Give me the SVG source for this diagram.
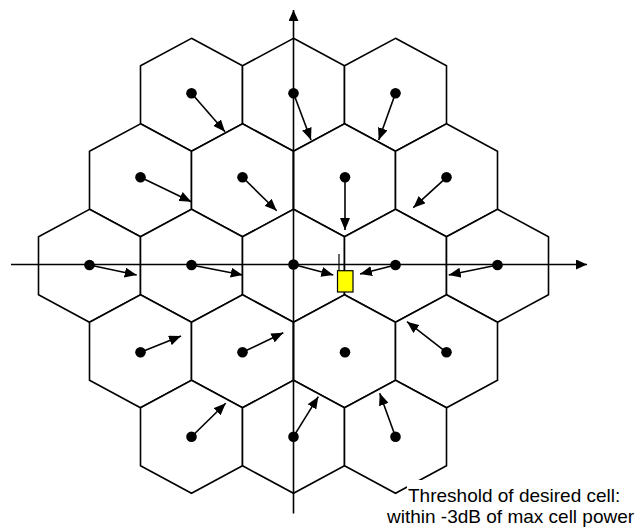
<svg xmlns="http://www.w3.org/2000/svg" xmlns:xlink="http://www.w3.org/1999/xlink" width="637" height="529" viewBox="0 0 637 529">
<style>
.hex{fill:#fff;stroke:#000;stroke-width:1.6;stroke-linejoin:miter}
.dot{fill:#000}
.arr{stroke:#000;stroke-width:1.6;fill:none;marker-end:url(#ah)}
.axis{stroke:#000;stroke-width:1.6;fill:none;marker-end:url(#axh)}
.lbl{font-family:"Liberation Sans",Arial,sans-serif;font-size:19px;fill:#000}
</style>
<defs>
<polygon id="hx" points="0,-56.5 51,-29 51,29 0,56.5 -51,29 -51,-29"/>
<marker id="ah" viewBox="0 0 12 10" markerWidth="12" markerHeight="10" refX="12" refY="5" orient="auto" markerUnits="userSpaceOnUse"><path d="M0,0 L12,5 L0,10 z" fill="#000"/></marker>
<marker id="axh" viewBox="0 0 11 10" markerWidth="11" markerHeight="10" refX="11" refY="5" orient="auto" markerUnits="userSpaceOnUse"><path d="M0,0 L11,5 L0,10 z" fill="#000"/></marker>
</defs>
<rect width="637" height="529" fill="#fff"/>
<g id="cells">
<g id="c1-1"><use xlink:href="#hx" class="hex" x="191.5" y="94.8"/></g>
<g id="c1-2"><use xlink:href="#hx" class="hex" x="293.5" y="94.8"/></g>
<g id="c1-3"><use xlink:href="#hx" class="hex" x="395.5" y="94.8"/></g>
<g id="c2-1"><use xlink:href="#hx" class="hex" x="140.5" y="180.3"/></g>
<g id="c2-2"><use xlink:href="#hx" class="hex" x="242.5" y="180.3"/></g>
<g id="c2-3"><use xlink:href="#hx" class="hex" x="344.5" y="180.3"/></g>
<g id="c2-4"><use xlink:href="#hx" class="hex" x="446.5" y="180.3"/></g>
<g id="c3-1"><use xlink:href="#hx" class="hex" x="89.5" y="265.8"/></g>
<g id="c3-2"><use xlink:href="#hx" class="hex" x="191.5" y="265.8"/></g>
<g id="c3-3"><use xlink:href="#hx" class="hex" x="293.5" y="265.8"/></g>
<g id="c3-4"><use xlink:href="#hx" class="hex" x="395.5" y="265.8"/></g>
<g id="c3-5"><use xlink:href="#hx" class="hex" x="497.5" y="265.8"/></g>
<g id="c4-1"><use xlink:href="#hx" class="hex" x="140.5" y="351.3"/></g>
<g id="c4-2"><use xlink:href="#hx" class="hex" x="242.5" y="351.3"/></g>
<g id="c4-3"><use xlink:href="#hx" class="hex" x="344.5" y="351.3"/></g>
<g id="c4-4"><use xlink:href="#hx" class="hex" x="446.5" y="351.3"/></g>
<g id="c5-1"><use xlink:href="#hx" class="hex" x="191.5" y="436.8"/></g>
<g id="c5-2"><use xlink:href="#hx" class="hex" x="293.5" y="436.8"/></g>
<g id="c5-3"><use xlink:href="#hx" class="hex" x="395.5" y="436.8"/></g>
</g>
<g id="axes">
<line class="axis" x1="11" y1="264.5" x2="587" y2="264.5"/>
<line class="axis" x1="293.5" y1="513.5" x2="293.5" y2="10"/>
</g>
<g id="connectors">
<line class="arr" x1="191.5" y1="93.3" x2="225" y2="131.7"/>
<line class="arr" x1="293.5" y1="93.3" x2="311" y2="140"/>
<line class="arr" x1="395.5" y1="93.3" x2="378.7" y2="140"/>
<line class="arr" x1="140.5" y1="177.3" x2="191.3" y2="201.7"/>
<line class="arr" x1="242.5" y1="177.3" x2="276.7" y2="210.7"/>
<line class="arr" x1="345" y1="177.3" x2="345" y2="230"/>
<line class="arr" x1="446.5" y1="177.3" x2="413.3" y2="207.7"/>
<line class="arr" x1="89.5" y1="265" x2="136.7" y2="275"/>
<line class="arr" x1="191.5" y1="265" x2="242.7" y2="275"/>
<line class="arr" x1="293.5" y1="264.5" x2="333.3" y2="275"/>
<line class="arr" x1="395.5" y1="265" x2="360" y2="274"/>
<line class="arr" x1="497.5" y1="265" x2="448.7" y2="275"/>
<line class="arr" x1="140.5" y1="352.3" x2="181" y2="336"/>
<line class="arr" x1="242.5" y1="352.3" x2="283.3" y2="332.7"/>
<line class="arr" x1="446.5" y1="352.3" x2="407" y2="321.7"/>
<line class="arr" x1="191.5" y1="436.7" x2="225.7" y2="403.3"/>
<line class="arr" x1="293.5" y1="436.7" x2="318.3" y2="396.7"/>
<line class="arr" x1="395.5" y1="436.7" x2="379.7" y2="393.3"/>
</g>
<g id="stations">
<circle class="dot" cx="191.5" cy="93.3" r="5.3"/>
<circle class="dot" cx="293.5" cy="93.3" r="5.3"/>
<circle class="dot" cx="395.5" cy="93.3" r="5.3"/>
<circle class="dot" cx="140.5" cy="177.3" r="5.3"/>
<circle class="dot" cx="242.5" cy="177.3" r="5.3"/>
<circle class="dot" cx="345" cy="177.3" r="5.3"/>
<circle class="dot" cx="446.5" cy="177.3" r="5.3"/>
<circle class="dot" cx="89.5" cy="265" r="5.3"/>
<circle class="dot" cx="191.5" cy="265" r="5.3"/>
<circle class="dot" cx="293.5" cy="264.5" r="5.3"/>
<circle class="dot" cx="395.5" cy="265" r="5.3"/>
<circle class="dot" cx="497.5" cy="265" r="5.3"/>
<circle class="dot" cx="140.5" cy="352.3" r="5.3"/>
<circle class="dot" cx="242.5" cy="352.3" r="5.3"/>
<circle class="dot" cx="345" cy="352.3" r="5.3"/>
<circle class="dot" cx="446.5" cy="352.3" r="5.3"/>
<circle class="dot" cx="191.5" cy="436.7" r="5.3"/>
<circle class="dot" cx="293.5" cy="436.7" r="5.3"/>
<circle class="dot" cx="395.5" cy="436.7" r="5.3"/>
</g>
<g id="terminal">
<line x1="339" y1="254" x2="339" y2="270.7" stroke="#000" stroke-width="1.2"/>
<rect x="337.5" y="270.7" width="15.5" height="21.3" fill="#ffff00" stroke="#000" stroke-width="1.2"/>
</g>
<g id="label">
<rect x="407" y="480" width="230" height="49" fill="#fff"/>
<text class="lbl" x="408" y="501.7">Threshold of desired cell:</text>
<text class="lbl" x="387" y="523.3">within -3dB of max cell power</text>
</g>
</svg>
